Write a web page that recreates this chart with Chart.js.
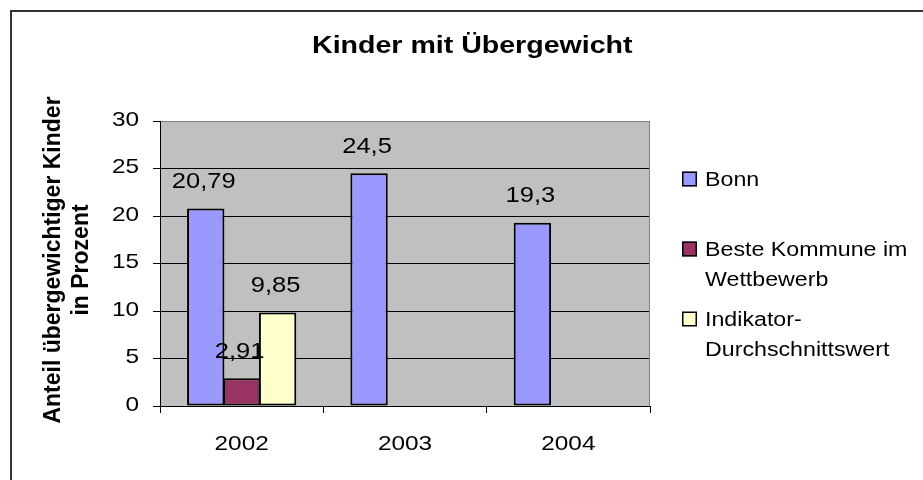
<!DOCTYPE html>
<html>
<head>
<meta charset="utf-8">
<title>Kinder mit Übergewicht</title>
<script src="https://cdn.jsdelivr.net/npm/chart.js@4.4.1/dist/chart.umd.min.js"></script>
<style>
    html, body { margin: 0; padding: 0; background: #fff; }
    canvas { display: block; }
</style>
</head>
<body>
<canvas id="myChart" width="923" height="480"></canvas>
<script>
var jahre = ["2002", "2003", "2004"];
var bonn = [20.79, 24.5, 19.3];
var besteKommune = [2.91, null, null];
var indikator = [9.85, null, null];
var serien = ["Bonn", "Beste Kommune im Wettbewerb", "Indikator-Durchschnittswert"];
var legendeZeilen = [["Bonn"], ["Beste Kommune im", "Wettbewerb"], ["Indikator-", "Durchschnittswert"]];
var yTicks = [0, 5, 10, 15, 20, 25, 30];
var titel = "Kinder mit Übergewicht";
var yTitel = ["Anteil übergewichtiger Kinder", "in Prozent"];

var farben = ["#9999FF", "#993366", "#FFFFCC"];
var FONT = "'Liberation Sans', Arial, sans-serif";
var STRECK = 1.16; // the original text is drawn a bit wider than normal

function komma(v) {
    return String(v).replace(".", ",");
}

function text(ctx, t, x, y, align, sx) {
    ctx.save();
    ctx.translate(x, y);
    ctx.scale(sx || STRECK, 1);
    ctx.textAlign = align;
    ctx.fillText(t, 0, 0);
    ctx.restore();
}

// excel-style background, titles, tick texts, value labels and legend
var excelLook = {
    id: "excelLook",
    beforeDraw: function (chart) {
        var ctx = chart.ctx;
        var a = chart.chartArea;
        ctx.save();
        ctx.fillStyle = "#fff";
        ctx.fillRect(0, 0, chart.width, chart.height);
        ctx.strokeStyle = "#333";
        ctx.lineWidth = 2;
        ctx.strokeRect(11, 11, chart.width + 20, chart.height + 20);
        ctx.fillStyle = "#C0C0C0";
        ctx.fillRect(a.left, a.top, a.right - a.left, a.bottom - a.top);
        ctx.restore();
    },
    afterDraw: function (chart) {
        var ctx = chart.ctx;
        var a = chart.chartArea;
        var xs = chart.scales.x;
        var ys = chart.scales.y;
        ctx.save();

        // grey top / right edge of the plot area
        ctx.strokeStyle = "#808080";
        ctx.lineWidth = 1;
        ctx.beginPath();
        ctx.moveTo(a.left + 1, a.top + 0.5);
        ctx.lineTo(a.right - 0.5, a.top + 0.5);
        ctx.lineTo(a.right - 0.5, a.bottom);
        ctx.stroke();

        ctx.fillStyle = "#000";
        ctx.textBaseline = "alphabetic";

        ctx.font = "bold 24px " + FONT;
        text(ctx, titel, 312, 53, "left", 1.19);

        ctx.save();
        ctx.font = "bold 23px " + FONT;
        ctx.textAlign = "center";
        ctx.translate(60, 260);
        ctx.rotate(-Math.PI / 2);
        for (var l = 0; l < yTitel.length; l++) {
            ctx.fillText(yTitel[l], 0, l * 28);
        }
        ctx.restore();

        ctx.font = "21px " + FONT;
        ys.ticks.forEach(function (t) {
            text(ctx, String(t.value), 139, ys.getPixelForValue(t.value) + 4.9, "right");
        });
        jahre.forEach(function (j, k) {
            text(ctx, j, xs.getPixelForTick(k), 449.5, "center");
        });

        ctx.font = "22px " + FONT;
        chart.data.datasets.forEach(function (ds, i) {
            chart.getDatasetMeta(i).data.forEach(function (bar, j) {
                var v = ds.data[j];
                if (v === null) return;
                text(ctx, komma(v), bar.x - 2, bar.y - 20.6, "center");
            });
        });

        ctx.font = "20px " + FONT;
        legendeZeilen.forEach(function (zeilen, i) {
            var cy = 179 + i * 70;
            ctx.fillStyle = chart.data.datasets[i].backgroundColor;
            ctx.fillRect(682, cy - 7.5, 15, 15);
            ctx.strokeStyle = "#000";
            ctx.lineWidth = 1.5;
            ctx.strokeRect(682.75, cy - 6.75, 13.5, 13.5);
            ctx.fillStyle = "#000";
            zeilen.forEach(function (t, k) {
                text(ctx, t, 705, cy + 7 + k * 30, "left");
            });
        });

        ctx.restore();
    }
};

var werte = [bonn, besteKommune, indikator];
var datasets = [];
for (var i = 0; i < serien.length; i++) {
    datasets.push({
        label: serien[i],
        data: werte[i],
        backgroundColor: farben[i],
        borderColor: "#000",
        borderWidth: 2,
        borderSkipped: false,
        categoryPercentage: 0.66,
        barPercentage: 1.04
    });
}

var ctx = document.getElementById("myChart").getContext("2d");
var myChart = new Chart(ctx, {
    type: "bar",
    data: {
        labels: jahre,
        datasets: datasets
    },
    options: {
        responsive: false,
        devicePixelRatio: 1,
        animation: false,
        layout: {
            padding: {left: 10, right: 273, top: 121, bottom: 0}
        },
        plugins: {
            legend: {display: false},
            title: {display: false},
            tooltip: {enabled: false}
        },
        scales: {
            x: {
                grid: {
                    offset: true,
                    drawOnChartArea: false,
                    tickLength: 7,
                    color: "#000"
                },
                border: {color: "#000", width: 1},
                ticks: {display: false},
                afterFit: function (s) { s.height = 74; }
            },
            y: {
                min: 0,
                max: 30,
                afterBuildTicks: function (s) {
                    s.ticks = yTicks.map(function (v) { return {value: v}; });
                },
                grid: {
                    color: "#000",
                    tickColor: "#000",
                    tickLength: 7
                },
                border: {color: "#000", width: 1},
                ticks: {display: false},
                afterFit: function (s) { s.width = 150; }
            }
        }
    },
    plugins: [excelLook]
});
</script>
</body>
</html>
